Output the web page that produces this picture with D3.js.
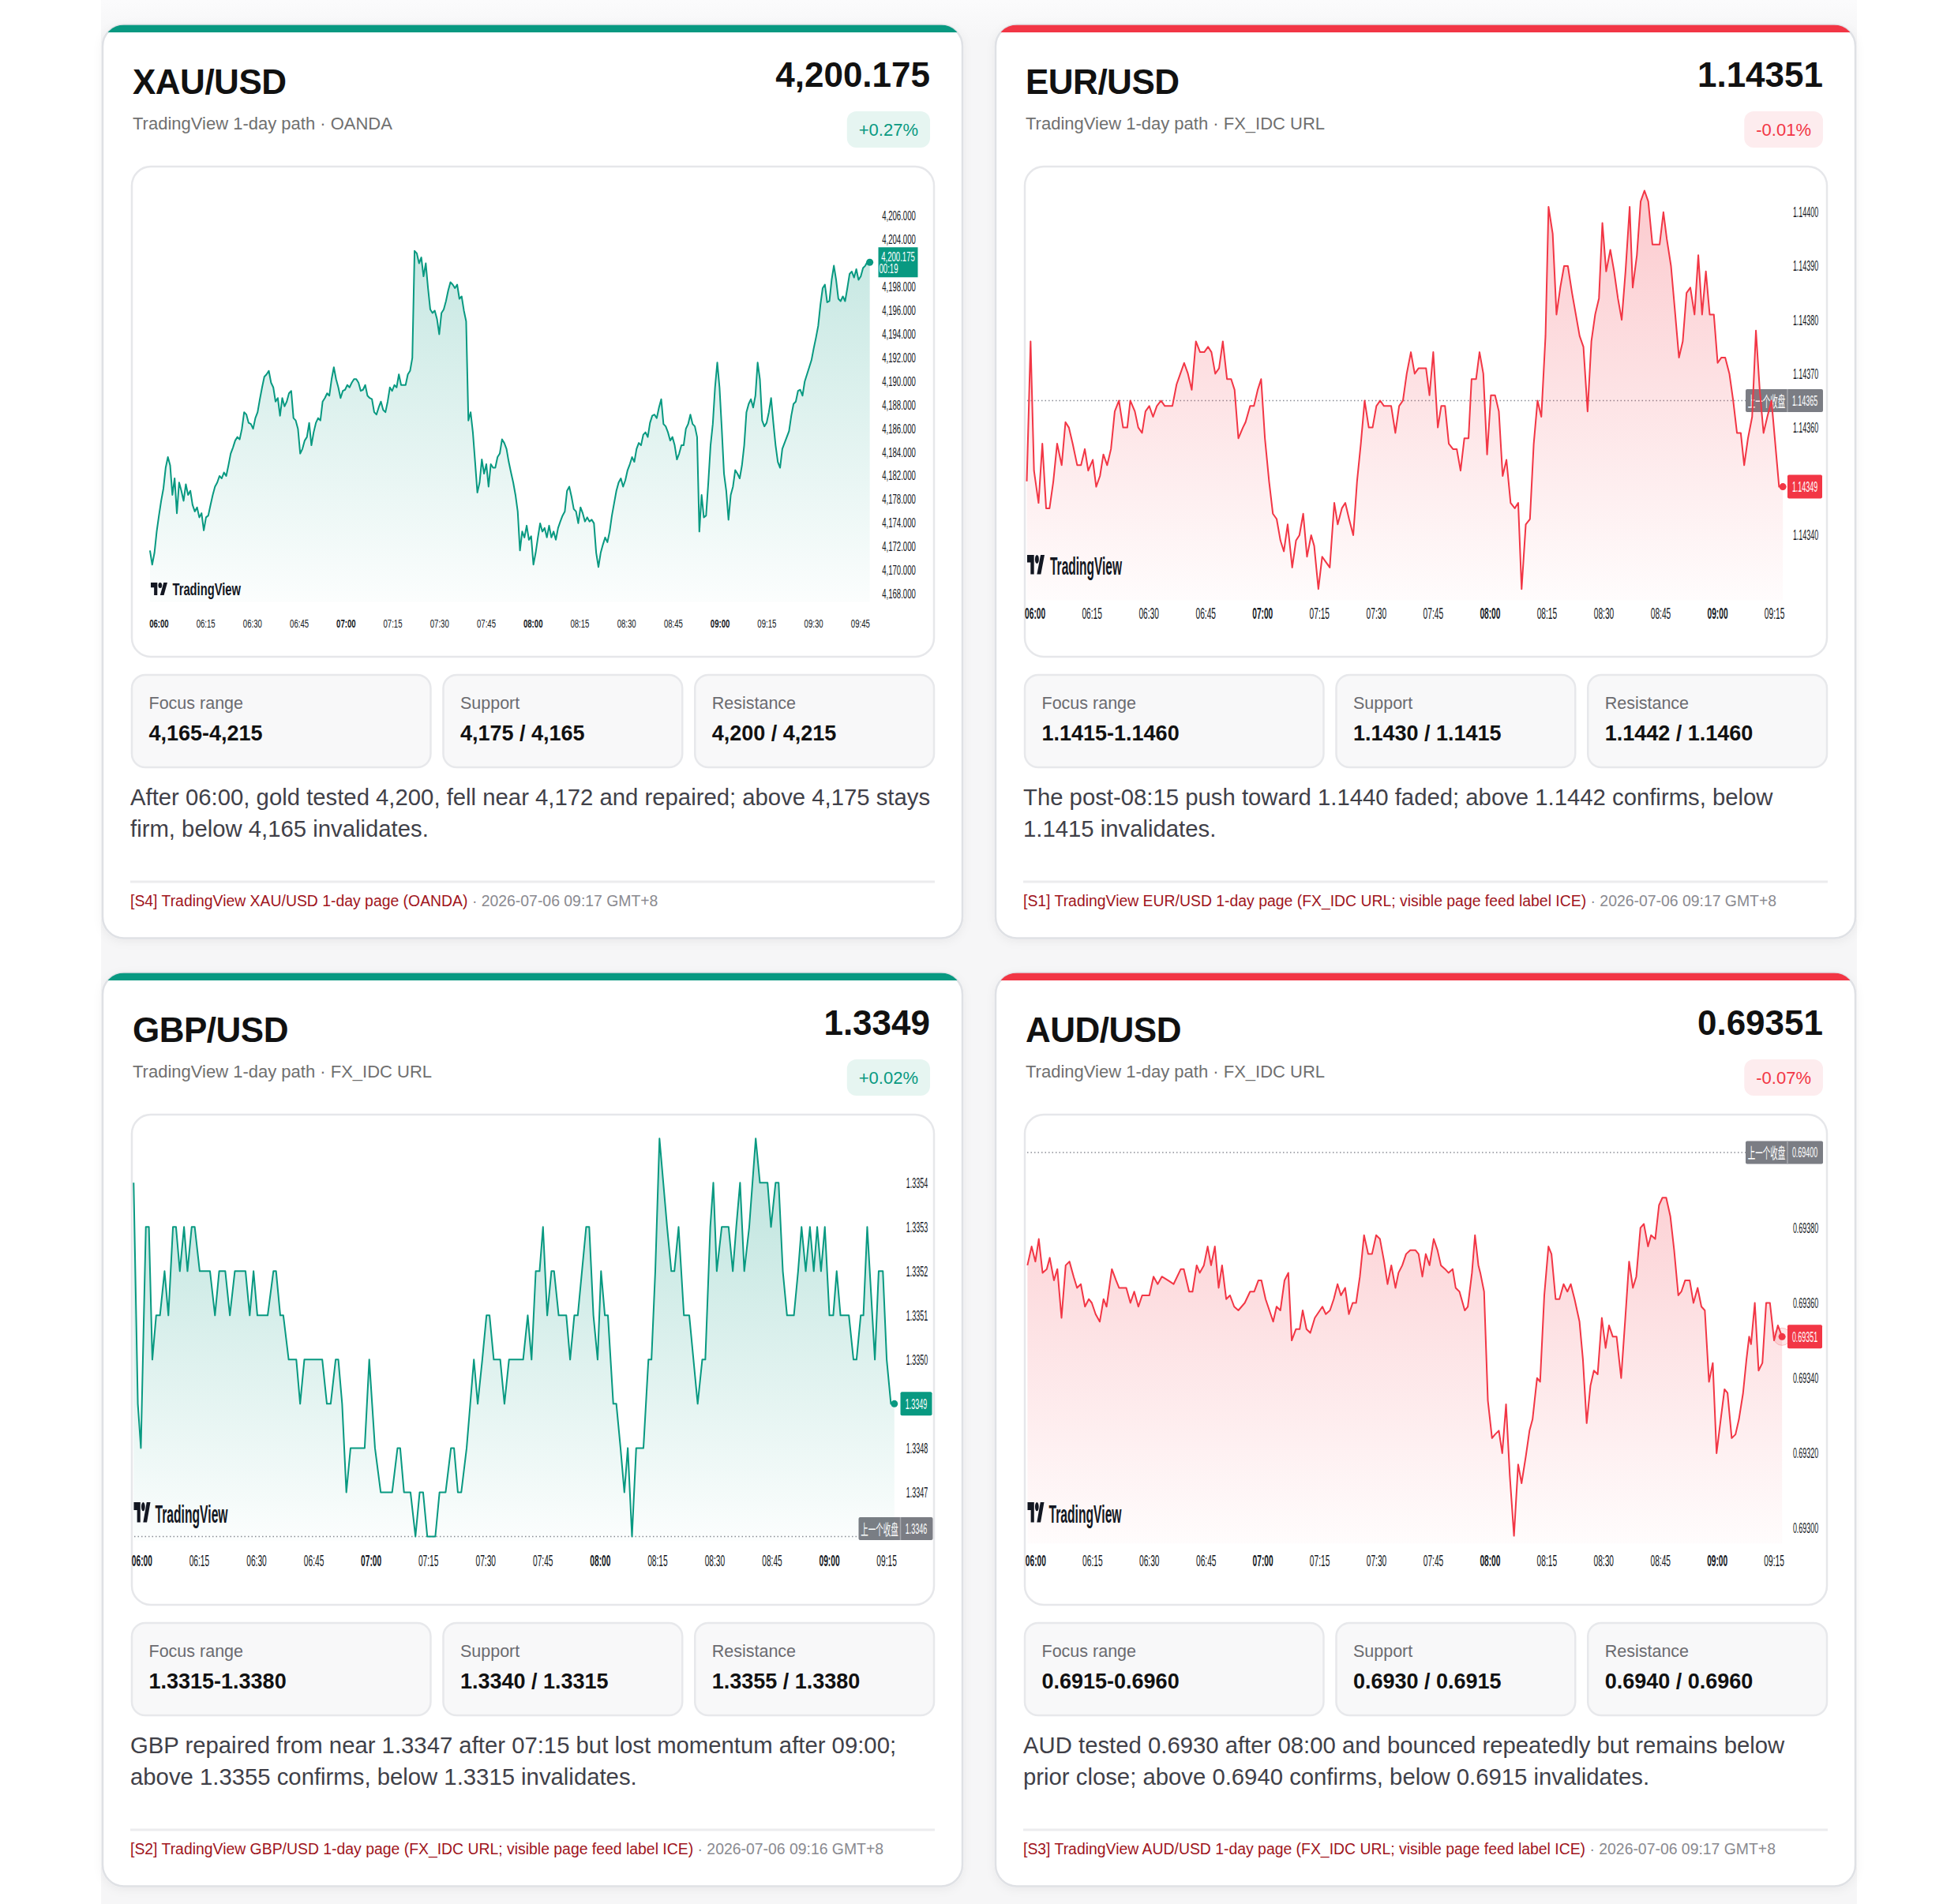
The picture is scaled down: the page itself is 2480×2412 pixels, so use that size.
<!DOCTYPE html>
<html lang="en">
<head>
<meta charset="utf-8">
<title>FX intraday cards</title>
<script src="https://d3js.org/d3.v7.min.js"></script>
<style>
  html, body { margin: 0; padding: 0; background: #ffffff; }
  svg { display: block; }
</style>
</head>
<body>
<script>

// ---------- data ----------
var symbols   = ["XAU/USD", "EUR/USD", "GBP/USD", "AUD/USD"];
var lastPrice = ["4,200.175", "1.14351", "1.3349", "0.69351"];
var changes   = ["+0.27%", "-0.01%", "+0.02%", "-0.07%"];
var feeds     = ["TradingView 1-day path \u00b7 OANDA", "TradingView 1-day path \u00b7 FX_IDC URL",
                 "TradingView 1-day path \u00b7 FX_IDC URL", "TradingView 1-day path \u00b7 FX_IDC URL"];
var statLabels = ["Focus range", "Support", "Resistance"];
var focusRange = ["4,165-4,215", "1.1415-1.1460", "1.3315-1.3380", "0.6915-0.6960"];
var supports   = ["4,175 / 4,165", "1.1430 / 1.1415", "1.3340 / 1.3315", "0.6930 / 0.6915"];
var resists    = ["4,200 / 4,215", "1.1442 / 1.1460", "1.3355 / 1.3380", "0.6940 / 0.6960"];
var notes = [
  ["After 06:00, gold tested 4,200, fell near 4,172 and repaired; above 4,175 stays", "firm, below 4,165 invalidates."],
  ["The post-08:15 push toward 1.1440 faded; above 1.1442 confirms, below", "1.1415 invalidates."],
  ["GBP repaired from near 1.3347 after 07:15 but lost momentum after 09:00;", "above 1.3355 confirms, below 1.3315 invalidates."],
  ["AUD tested 0.6930 after 08:00 and bounced repeatedly but remains below", "prior close; above 0.6940 confirms, below 0.6915 invalidates."]
];
var sources = [
  "[S4] TradingView XAU/USD 1-day page (OANDA)",
  "[S1] TradingView EUR/USD 1-day page (FX_IDC URL; visible page feed label ICE)",
  "[S2] TradingView GBP/USD 1-day page (FX_IDC URL; visible page feed label ICE)",
  "[S3] TradingView AUD/USD 1-day page (FX_IDC URL; visible page feed label ICE)"
];
var stamps = ["2026-07-06 09:17 GMT+8", "2026-07-06 09:17 GMT+8", "2026-07-06 09:16 GMT+8", "2026-07-06 09:17 GMT+8"];

// price-scale labels (XAU's scale is not evenly valued in the screenshot)
var xauTicks = [4206, 4204, 4200, 4198, 4196, 4194, 4192, 4190, 4188, 4186, 4184, 4182, 4178, 4174, 4172, 4170, 4168];
var eurTicks = [1.14400, 1.14390, 1.14380, 1.14370, 1.14360, 1.14350, 1.14340];
var gbpTicks = [1.3354, 1.3353, 1.3352, 1.3351, 1.3350, 1.3349, 1.3348, 1.3347, 1.3346];
var audTicks = [0.69400, 0.69380, 0.69360, 0.69340, 0.69320, 0.69300];
var prevClose = [null, 1.14365, 1.3346, 0.69400];
var lastTicks = [4200.175, 1.14349, 1.3349, 0.69351];
var xauCountdown = "00:19";

// XAU: evenly spaced samples, first and last at these minutes after 06:00
var xauFirstMin = -2.9, xauLastMin = 228.0;
var xauPrice = [4171.7,4170.5,4171.5,4173.3,4175.3,4177.8,4179.9,4182.7,4183.6,4182.9,4178.8,4181.6,4175.7,4180.9,4179.5,4177.8,4180.6,4178.8,4179.5,4177.1,4176.0,4176.7,4175.0,4175.7,4173.4,4175.0,4175.3,4177.1,4178.8,4180.2,4180.9,4182.0,4181.6,4182.3,4182.0,4182.9,4183.9,4184.4,4185.0,4185.3,4185.1,4186.0,4187.4,4187.2,4186.5,4186.4,4186.0,4186.9,4187.4,4188.5,4189.5,4190.4,4190.6,4190.9,4189.9,4189.5,4188.3,4188.6,4187.1,4188.6,4187.9,4188.3,4189.0,4189.2,4186.9,4186.7,4186.0,4183.9,4184.3,4185.0,4185.3,4186.5,4184.6,4185.7,4186.5,4186.9,4186.7,4188.3,4188.6,4189.0,4188.8,4190.2,4191.2,4190.2,4189.5,4188.6,4189.2,4189.3,4189.7,4189.5,4189.9,4190.2,4190.2,4189.9,4189.2,4189.3,4189.7,4188.8,4188.6,4188.5,4187.4,4187.2,4187.8,4188.3,4187.6,4187.4,4188.3,4189.5,4189.2,4189.7,4189.5,4190.6,4189.7,4189.7,4189.7,4190.6,4190.9,4192.0,4202.1,4201.7,4200.0,4201.0,4198.9,4200.0,4197.9,4196.1,4195.8,4196.0,4195.3,4194.0,4195.8,4196.1,4196.8,4197.7,4198.4,4198.2,4197.9,4198.2,4197.0,4197.2,4196.0,4195.1,4186.7,4187.4,4185.7,4183.2,4179.2,4180.9,4183.4,4182.2,4183.0,4180.2,4183.0,4182.7,4182.7,4183.6,4183.9,4185.1,4184.8,4184.3,4183.2,4182.3,4180.9,4178.8,4176.0,4171.7,4173.3,4172.8,4173.8,4172.6,4172.9,4170.5,4171.5,4172.8,4174.0,4173.3,4173.6,4172.8,4173.8,4172.8,4173.3,4172.6,4173.6,4174.3,4175.3,4176.0,4179.5,4180.2,4178.5,4176.4,4176.0,4174.0,4176.7,4175.7,4174.3,4175.0,4174.3,4174.6,4174.0,4171.5,4170.3,4171.5,4172.2,4172.8,4172.4,4173.3,4175.3,4177.4,4179.5,4180.9,4181.6,4180.2,4181.3,4182.5,4183.0,4183.6,4183.2,4184.3,4184.8,4184.6,4185.5,4185.7,4185.3,4186.5,4187.1,4187.2,4186.9,4187.8,4188.5,4186.4,4186.2,4185.7,4185.0,4185.3,4184.6,4183.4,4183.9,4184.6,4184.6,4186.0,4186.4,4187.2,4186.4,4186.2,4185.3,4173.3,4178.8,4175.0,4175.3,4180.9,4184.6,4186.4,4189.5,4191.6,4189.5,4186.0,4182.2,4179.5,4174.6,4178.8,4180.2,4182.5,4182.2,4181.6,4182.9,4184.6,4187.4,4188.1,4188.5,4187.8,4188.8,4191.6,4190.2,4186.7,4186.2,4186.5,4187.4,4188.6,4186.5,4184.6,4183.2,4182.7,4184.3,4184.8,4185.3,4185.8,4187.1,4188.1,4188.3,4189.2,4189.3,4188.8,4190.0,4190.6,4191.2,4191.8,4192.8,4193.7,4194.7,4196.5,4197.9,4198.2,4196.7,4196.8,4198.6,4199.8,4198.6,4197.0,4196.8,4197.2,4196.8,4197.9,4199.1,4199.3,4198.8,4199.5,4198.6,4198.9,4199.6,4199.8,4200.3,4200.175];

// [minutes after 06:00, price]
var eurPath = [[-2.2,1.14350],[-1.2,1.14376],[-0.3,1.14352],[0.9,1.14346],[1.9,1.14357],[2.9,1.14345],[3.8,1.14345],[4.8,1.14350],[5.8,1.14357],[7.0,1.14353],[8.0,1.14361],[8.9,1.14360],[9.9,1.14357],[11.1,1.14353],[12.1,1.14353],[13.1,1.14356],[14.0,1.14352],[15.2,1.14354],[16.1,1.14349],[17.1,1.14351],[18.0,1.14355],[19.0,1.14353],[20.0,1.14356],[21.0,1.14363],[22.1,1.14365],[23.2,1.14360],[24.3,1.14360],[25.1,1.14365],[26.3,1.14363],[27.2,1.14360],[28.2,1.14359],[29.1,1.14363],[30.1,1.14364],[31.1,1.14362],[32.1,1.14364],[33.2,1.14365],[34.2,1.14364],[36.2,1.14364],[37.3,1.14368],[38.3,1.14370],[39.3,1.14372],[40.3,1.14370],[41.3,1.14367],[42.4,1.14376],[43.5,1.14374],[44.6,1.14374],[45.6,1.14375],[46.5,1.14374],[47.5,1.14370],[48.5,1.14371],[49.5,1.14376],[50.6,1.14369],[51.7,1.14369],[52.6,1.14367],[53.6,1.14358],[54.8,1.14360],[55.5,1.14361],[56.7,1.14364],[57.7,1.14364],[58.7,1.14367],[59.6,1.14369],[60.6,1.14358],[61.7,1.14350],[62.7,1.14344],[63.7,1.14343],[64.7,1.14339],[65.6,1.14337],[66.6,1.14342],[67.8,1.14334],[68.8,1.14339],[69.7,1.14340],[70.7,1.14344],[71.7,1.14336],[72.8,1.14340],[73.6,1.14338],[74.7,1.14330],[75.7,1.14336],[76.7,1.14335],[77.7,1.14334],[78.9,1.14346],[79.8,1.14342],[80.9,1.14345],[81.8,1.14346],[82.8,1.14343],[83.9,1.14340],[84.9,1.14350],[85.9,1.14357],[86.9,1.14365],[88.0,1.14360],[89.0,1.14360],[90.0,1.14364],[91.0,1.14365],[92.0,1.14364],[93.9,1.14364],[95.0,1.14359],[96.0,1.14364],[97.0,1.14365],[98.0,1.14370],[99.1,1.14374],[100.1,1.14370],[101.1,1.14371],[103.1,1.14371],[104.0,1.14366],[105.0,1.14374],[106.2,1.14360],[107.1,1.14364],[108.1,1.14364],[109.1,1.14357],[110.2,1.14356],[111.2,1.14356],[112.2,1.14352],[113.2,1.14358],[114.3,1.14358],[115.1,1.14369],[116.3,1.14369],[117.2,1.14374],[118.2,1.14370],[119.2,1.14355],[120.2,1.14366],[121.3,1.14366],[122.3,1.14363],[123.3,1.14351],[124.3,1.14354],[125.4,1.14346],[126.5,1.14345],[127.4,1.14346],[128.3,1.14330],[129.4,1.14342],[130.5,1.14343],[131.5,1.14357],[132.5,1.14365],[133.5,1.14362],[134.6,1.14377],[135.4,1.14401],[136.5,1.14396],[137.5,1.14381],[138.5,1.14386],[139.5,1.14390],[140.5,1.14390],[141.6,1.14385],[142.6,1.14381],[143.6,1.14377],[144.6,1.14375],[145.7,1.14363],[146.7,1.14376],[147.7,1.14381],[148.7,1.14384],[149.6,1.14398],[150.6,1.14389],[151.7,1.14393],[152.7,1.14389],[153.7,1.14384],[154.7,1.14380],[155.7,1.14389],[156.8,1.14401],[157.6,1.14386],[158.7,1.14392],[159.7,1.14402],[160.7,1.14404],[161.7,1.14402],[162.8,1.14394],[164.7,1.14394],[165.7,1.14400],[166.6,1.14395],[167.7,1.14390],[168.7,1.14382],[169.8,1.14373],[170.8,1.14376],[171.8,1.14385],[172.8,1.14386],[173.9,1.14381],[174.9,1.14392],[175.9,1.14381],[176.9,1.14389],[177.9,1.14381],[179.0,1.14381],[180.0,1.14372],[181.0,1.14373],[182.0,1.14373],[183.1,1.14370],[184.1,1.14365],[185.1,1.14359],[186.1,1.14359],[187.0,1.14353],[188.0,1.14358],[189.1,1.14362],[190.1,1.14378],[191.1,1.14367],[192.1,1.14359],[193.1,1.14362],[194.2,1.14365],[195.2,1.14357],[196.2,1.14349],[197.2,1.14349]];

var gbpPath = [[-2.2,1.3354],[-1.1,1.3349],[-0.3,1.3348],[1.0,1.3353],[1.8,1.3353],[2.7,1.3350],[3.7,1.3351],[4.7,1.3351],[5.9,1.3352],[6.9,1.3351],[8.1,1.3353],[8.9,1.3353],[9.9,1.3352],[11.0,1.3353],[11.9,1.3352],[13.0,1.3353],[13.8,1.3353],[15.1,1.3352],[17.8,1.3352],[19.1,1.3351],[20.2,1.3352],[21.8,1.3352],[23.0,1.3351],[24.3,1.3352],[27.1,1.3352],[28.2,1.3351],[29.2,1.3352],[30.2,1.3351],[32.9,1.3351],[34.4,1.3352],[35.1,1.3352],[36.2,1.3351],[37.0,1.3351],[38.4,1.3350],[40.4,1.3350],[41.4,1.3349],[42.5,1.3350],[47.2,1.3350],[48.4,1.3349],[49.4,1.3349],[50.7,1.3350],[51.4,1.3350],[52.4,1.3349],[53.5,1.3347],[54.6,1.3348],[58.3,1.3348],[59.5,1.3350],[61.0,1.3348],[62.5,1.3347],[65.5,1.3347],[66.9,1.3348],[67.6,1.3348],[68.6,1.3347],[70.3,1.3347],[71.6,1.3346],[72.7,1.3347],[73.6,1.3347],[74.7,1.3346],[76.8,1.3346],[77.9,1.3347],[79.5,1.3347],[80.9,1.3348],[81.7,1.3348],[82.7,1.3347],[83.6,1.3347],[85.0,1.3348],[86.9,1.3350],[87.9,1.3349],[89.1,1.3350],[90.2,1.3351],[91.0,1.3351],[92.1,1.3350],[93.8,1.3350],[94.9,1.3349],[96.1,1.3350],[99.8,1.3350],[101.0,1.3351],[102.0,1.3350],[103.1,1.3352],[104.1,1.3352],[105.0,1.3353],[106.1,1.3351],[107.2,1.3352],[107.9,1.3352],[109.1,1.3351],[111.1,1.3351],[112.1,1.3350],[113.2,1.3351],[114.1,1.3351],[115.2,1.3352],[116.3,1.3353],[117.1,1.3353],[118.2,1.3351],[119.3,1.3350],[120.2,1.3352],[121.2,1.3351],[122.0,1.3351],[123.4,1.3349],[124.2,1.3349],[125.3,1.3348],[126.3,1.3347],[127.2,1.3348],[128.3,1.3346],[129.4,1.3348],[131.3,1.3348],[132.6,1.3350],[133.4,1.3350],[134.4,1.3352],[135.5,1.3355],[137.5,1.3353],[138.6,1.3352],[139.4,1.3352],[140.5,1.3353],[141.9,1.3351],[143.3,1.3351],[144.4,1.3350],[145.5,1.3349],[146.7,1.3350],[147.5,1.3350],[148.8,1.3353],[149.6,1.3354],[150.5,1.3352],[151.8,1.3353],[153.6,1.3353],[154.7,1.3352],[155.6,1.3353],[156.6,1.3354],[157.7,1.3352],[159.0,1.3353],[160.7,1.3355],[161.8,1.3354],[163.8,1.3354],[164.7,1.3353],[165.9,1.3354],[166.7,1.3354],[167.8,1.3352],[168.9,1.3351],[170.7,1.3351],[171.8,1.3352],[172.7,1.3353],[173.8,1.3352],[174.9,1.3353],[175.9,1.3352],[176.8,1.3353],[177.8,1.3352],[178.8,1.3353],[180.0,1.3351],[181.0,1.3351],[181.9,1.3352],[182.9,1.3351],[185.1,1.3351],[186.3,1.3350],[187.1,1.3350],[188.2,1.3351],[188.9,1.3351],[189.9,1.3353],[191.9,1.3350],[192.9,1.3352],[194.0,1.3352],[195.0,1.3350],[196.1,1.3349],[197.0,1.3349]];

var audPath = [[-2.2,0.69370],[-1.1,0.69375],[-0.1,0.69371],[0.8,0.69377],[1.8,0.69368],[2.9,0.69369],[3.7,0.69372],[4.8,0.69366],[5.7,0.69369],[6.8,0.69356],[7.9,0.69370],[8.9,0.69371],[10.0,0.69367],[10.9,0.69364],[11.9,0.69365],[13.0,0.69359],[14.0,0.69361],[14.8,0.69360],[15.8,0.69357],[16.9,0.69355],[17.9,0.69361],[18.7,0.69359],[20.1,0.69369],[21.2,0.69366],[22.0,0.69364],[23.9,0.69364],[25.0,0.69360],[26.0,0.69363],[27.1,0.69359],[28.1,0.69362],[30.0,0.69362],[31.1,0.69367],[32.2,0.69365],[33.3,0.69367],[34.9,0.69366],[36.4,0.69365],[38.3,0.69369],[39.1,0.69369],[40.5,0.69363],[41.4,0.69363],[42.5,0.69370],[43.3,0.69368],[44.4,0.69370],[45.4,0.69375],[46.3,0.69370],[47.3,0.69375],[48.3,0.69364],[49.2,0.69370],[50.3,0.69361],[51.3,0.69362],[52.4,0.69359],[53.5,0.69358],[55.2,0.69360],[56.6,0.69363],[57.7,0.69363],[58.8,0.69366],[59.6,0.69366],[60.7,0.69361],[62.7,0.69355],[63.6,0.69359],[64.6,0.69358],[65.7,0.69366],[66.7,0.69368],[67.6,0.69350],[68.7,0.69353],[69.7,0.69353],[70.5,0.69358],[71.5,0.69353],[72.5,0.69352],[73.7,0.69356],[75.7,0.69359],[76.6,0.69357],[77.7,0.69358],[78.7,0.69361],[79.7,0.69365],[80.6,0.69362],[81.7,0.69364],[82.7,0.69357],[83.7,0.69360],[84.6,0.69360],[85.6,0.69367],[86.7,0.69378],[87.8,0.69373],[88.8,0.69373],[89.9,0.69378],[90.9,0.69377],[92.0,0.69371],[92.9,0.69365],[93.9,0.69370],[95.0,0.69364],[95.8,0.69368],[96.8,0.69370],[97.8,0.69373],[98.9,0.69374],[100.3,0.69374],[101.1,0.69373],[102.1,0.69367],[103.0,0.69373],[104.0,0.69370],[105.1,0.69377],[106.1,0.69374],[107.0,0.69370],[108.1,0.69369],[109.0,0.69368],[110.1,0.69369],[110.9,0.69364],[111.9,0.69363],[113.3,0.69358],[114.1,0.69359],[115.2,0.69368],[116.0,0.69378],[116.9,0.69370],[117.4,0.69368],[118.4,0.69363],[119.4,0.69334],[120.5,0.69324],[121.3,0.69325],[122.3,0.69326],[123.2,0.69320],[124.2,0.69333],[125.2,0.69314],[126.3,0.69298],[127.4,0.69317],[128.3,0.69312],[129.4,0.69319],[130.4,0.69326],[131.2,0.69329],[132.4,0.69340],[133.2,0.69339],[134.3,0.69362],[135.4,0.69375],[136.2,0.69373],[137.3,0.69361],[138.3,0.69361],[139.4,0.69365],[140.4,0.69363],[141.3,0.69365],[142.3,0.69361],[143.6,0.69355],[144.5,0.69345],[145.5,0.69328],[146.5,0.69338],[147.4,0.69342],[148.4,0.69341],[149.5,0.69356],[150.5,0.69348],[151.4,0.69354],[152.4,0.69351],[153.4,0.69351],[154.6,0.69340],[155.7,0.69356],[156.7,0.69371],[157.7,0.69364],[158.6,0.69367],[159.7,0.69380],[160.6,0.69381],[161.7,0.69375],[162.5,0.69378],[163.6,0.69377],[164.6,0.69386],[165.5,0.69388],[166.5,0.69388],[167.6,0.69383],[168.6,0.69374],[169.7,0.69362],[170.5,0.69363],[171.5,0.69366],[172.7,0.69366],[173.7,0.69360],[174.8,0.69364],[175.8,0.69359],[176.7,0.69358],[177.8,0.69339],[178.8,0.69344],[179.8,0.69320],[180.9,0.69329],[181.9,0.69337],[182.7,0.69336],[183.8,0.69324],[184.8,0.69325],[185.7,0.69329],[186.8,0.69336],[187.7,0.69345],[188.4,0.69351],[188.9,0.69349],[189.9,0.69360],[190.9,0.69342],[191.9,0.69344],[192.9,0.69360],[193.9,0.69360],[195.0,0.69350],[196.0,0.69354],[197.1,0.69351]];

// ---------- build the per-card tables ----------
var GREEN = "#089981", RED = "#f23645";
var day0 = new Date(2026, 6, 6, 6, 0);
function atMin(m) { return new Date(day0.getTime() + m * 60000); }

var xauSeries = xauPrice.map(function(v, i) {
  return { t: atMin(xauFirstMin + i * (xauLastMin - xauFirstMin) / (xauPrice.length - 1)), v: v };
});
function pairs(p) { return p.map(function(d) { return { t: atMin(d[0]), v: d[1] }; }); }

var charts = [
  { series: xauSeries, ticks: xauTicks, fmt: d3.format(",.3f"), knots: true, endMin: 225,
    L: { x0: 71.4, x1: 959.8, yTop: 242.2, yBot: 721.2, tickX: 1008.5, timeY: 758.5, fillBot: 731,
         tickSize: 16, timeSize: 15, sx: 0.6, badgeW: 50,
         logoX: 61, logoY: 706.5, logoH: 16, logoW: 21, logoTextX: 88.5, logoSize: 22, logoSx: 0.67 } },
  { series: pairs(eurPath), ticks: eurTicks, fmt: d3.format(".5f"), knots: false, endMin: 195,
    L: { x0: 50.1, x1: 986.6, yTop: 237.3, yBot: 646.5, tickX: 1026, timeY: 745.5, fillBot: 729,
         tickSize: 19, timeSize: 20, sx: 0.47, badgeW: 44,
         logoX: 40, logoY: 671.5, logoH: 24.5, logoW: 22, logoTextX: 69, logoSize: 31, logoSx: 0.5 } },
  { series: pairs(gbpPath), ticks: gbpTicks, fmt: d3.format(".4f"), knots: false, endMin: 195,
    L: { x0: 49.9, x1: 993.1, yTop: 265.8, yBot: 713.9, tickX: 1031.5, timeY: 744.5, fillBot: 719,
         tickSize: 19, timeSize: 20, sx: 0.47, badgeW: 40,
         logoX: 39.5, logoY: 670.5, logoH: 25.5, logoW: 21, logoTextX: 66.5, logoSize: 32, logoSx: 0.49 } },
  { series: pairs(audPath), ticks: audTicks, fmt: d3.format(".5f"), knots: false, endMin: 195,
    L: { x0: 50.9, x1: 986.1, yTop: 227.6, yBot: 703.6, tickX: 1026, timeY: 744.5, fillBot: 723,
         tickSize: 19, timeSize: 20, sx: 0.47, badgeW: 44,
         logoX: 40.5, logoY: 670.5, logoH: 25.5, logoW: 21, logoTextX: 67.5, logoSize: 32, logoSx: 0.49 } }
];

// card geometry
var W = 2480, H = 2412;
var cardW = 1089, cardH = 1157;
var cardX = [130, 1261, 130, 1261];
var cardY = [31.5, 31.5, 1232.5, 1232.5];
var FONT = "'Liberation Sans', Arial, Helvetica, sans-serif";

var svg = d3.select("body").append("svg")
  .attr("width", W).attr("height", H)
  .attr("font-family", FONT);

var defs = svg.append("defs");
var shadow = defs.append("filter").attr("id", "shadow").attr("x", "-5%").attr("y", "-5%").attr("width", "110%").attr("height", "110%");
shadow.append("feDropShadow").attr("dx", 0).attr("dy", 3).attr("stdDeviation", 6).attr("flood-color", "#000").attr("flood-opacity", 0.05);

var bg = defs.append("linearGradient").attr("id", "pagebg").attr("x1", 0).attr("x2", 0).attr("y1", 0).attr("y2", 1);
bg.append("stop").attr("offset", 0).attr("stop-color", "#fbfbfc");
bg.append("stop").attr("offset", 0.02).attr("stop-color", "#f6f6f7");
bg.append("stop").attr("offset", 1).attr("stop-color", "#f6f6f7");

svg.append("rect").attr("width", W).attr("height", H).attr("fill", "#fff");
svg.append("rect").attr("x", 128).attr("width", 2224).attr("height", H).attr("fill", "url(#pagebg)");

// condensed text (the chart screenshots are squeezed sideways)
function ctext(g, x, y, str, size, sx) {
  return g.append("text")
    .attr("transform", "translate(" + x + "," + y + ") scale(" + sx + ",1)")
    .attr("font-size", size)
    .attr("dominant-baseline", "central")
    .text(str);
}

symbols.forEach(function(sym, i) {
  var up = changes[i].charAt(0) === "+";
  var col = up ? GREEN : RED;
  var g = svg.append("g").attr("transform", "translate(" + cardX[i] + "," + cardY[i] + ")");

  // card + coloured top strip
  var clipId = "card-clip-" + i;
  defs.append("clipPath").attr("id", clipId)
    .append("rect").attr("width", cardW).attr("height", cardH).attr("rx", 27);
  g.append("rect").attr("width", cardW).attr("height", cardH).attr("rx", 27)
    .attr("fill", "#fff").attr("stroke", "#dfe1e5").attr("stroke-width", 2.5)
    .attr("filter", "url(#shadow)");
  g.append("rect").attr("clip-path", "url(#" + clipId + ")")
    .attr("width", cardW).attr("height", 9.5).attr("fill", col);

  // header
  g.append("text").attr("x", 38).attr("y", 87.5).attr("font-size", 44).attr("font-weight", "bold")
    .attr("fill", "#111").attr("letter-spacing", -0.5).text(sym);
  g.append("text").attr("x", cardW - 41).attr("y", 78.5).attr("font-size", 44).attr("font-weight", "bold")
    .attr("fill", "#111").attr("text-anchor", "end").text(lastPrice[i]);
  g.append("text").attr("x", 38).attr("y", 132.5).attr("font-size", 22).attr("fill", "#707070").text(feeds[i]);

  var badge = g.append("g");
  var chg = badge.append("text").attr("y", 140).attr("font-size", 22).attr("fill", col)
    .attr("text-anchor", "middle").text(changes[i]);
  var bw = chg.node().getComputedTextLength() + 30;
  badge.insert("rect", "text")
    .attr("x", cardW - 41 - bw).attr("y", 109.5).attr("width", bw).attr("height", 46).attr("rx", 12)
    .attr("fill", up ? "#e6f5f1" : "#fdecee");
  chg.attr("x", cardW - 41 - bw / 2);

  // chart panel
  var cg = g.append("g");
  cg.append("rect").attr("x", 37).attr("y", 179.5).attr("width", 1016).attr("height", 621).attr("rx", 24)
    .attr("fill", "#fff").attr("stroke", "#e6e7ea").attr("stroke-width", 2.5);
  drawChart(cg, charts[i], col, i);

  // stat boxes: 1.25fr 1fr 1fr
  var values = [focusRange[i], supports[i], resists[i]];
  var fr = (1016 - 32) / 3.25;
  var widths = [fr * 1.25, fr, fr];
  var bx = 37;
  statLabels.forEach(function(lab, k) {
    g.append("rect").attr("x", bx).attr("y", 823.5).attr("width", widths[k]).attr("height", 117).attr("rx", 17)
      .attr("fill", "#f8f8f9").attr("stroke", "#e7e8eb").attr("stroke-width", 2.5);
    g.append("text").attr("x", bx + 21.5).attr("y", 866.5).attr("font-size", 21.5).attr("fill", "#6b6b70").text(lab);
    g.append("text").attr("x", bx + 21.5).attr("y", 906.5).attr("font-size", 27).attr("font-weight", "bold")
      .attr("fill", "#111").text(values[k]);
    bx += widths[k] + 16;
  });

  // note
  notes[i].forEach(function(line, k) {
    g.append("text").attr("x", 35).attr("y", 988.5 + k * 40).attr("font-size", 29.3).attr("fill", "#404048").text(line);
  });

  g.append("line").attr("x1", 35).attr("x2", 1054).attr("y1", 1085.5).attr("y2", 1085.5)
    .attr("stroke", "#ececee").attr("stroke-width", 3);

  var foot = g.append("text").attr("x", 35).attr("y", 1116.5).attr("font-size", 19.4);
  foot.append("tspan").attr("fill", "#a0141c").text(sources[i]);
  foot.append("tspan").attr("fill", "#8a8a90").text(" \u00b7 " + stamps[i]);
});

function drawChart(g, c, col, i) {
  var L = c.L;
  var x = d3.scaleTime().domain([atMin(0), atMin(c.endMin)]).range([L.x0, L.x1]);
  var y;
  if (c.knots) {
    var slot = d3.scalePoint().domain(c.ticks).range([L.yTop, L.yBot]);
    y = d3.scaleLinear().domain(c.ticks).range(c.ticks.map(function(t) { return slot(t); }));
  } else {
    y = d3.scaleLinear().domain([c.ticks[0], c.ticks[c.ticks.length - 1]]).range([L.yTop, L.yBot]);
  }

  var gid = "fill-" + i;
  var grad = defs.append("linearGradient").attr("id", gid).attr("gradientUnits", "userSpaceOnUse")
    .attr("x1", 0).attr("x2", 0).attr("y1", L.yTop - 40).attr("y2", L.fillBot);
  grad.append("stop").attr("offset", 0).attr("stop-color", col).attr("stop-opacity", 0.27);
  grad.append("stop").attr("offset", 1).attr("stop-color", col).attr("stop-opacity", 0.015);

  var data = c.series;
  var area = d3.area().x(function(d) { return x(d.t); }).y0(L.fillBot).y1(function(d) { return y(d.v); });
  var line = d3.line().x(function(d) { return x(d.t); }).y(function(d) { return y(d.v); });

  // badges on the price scale hide the labels beneath them
  var lastY = y(lastTicks[i]);
  var lastHalf = c.knots ? 19 : 15;
  var prevY = prevClose[i] !== null ? Math.min(y(prevClose[i]), L.fillBot - 15) : null;
  function hidden(ty) {
    if (Math.abs(ty - lastY) < lastHalf + 3) return true;
    if (prevY !== null && Math.abs(ty - prevY) < 17) return true;
    return false;
  }

  // price scale labels
  var tg = g.append("g").attr("fill", "#131722");
  c.ticks.forEach(function(t) {
    if (hidden(y(t))) return;
    ctext(tg, L.tickX, y(t), c.fmt(t), L.tickSize, L.sx).attr("text-anchor", "middle");
  });

  // time labels
  var times = x.ticks(d3.timeMinute.every(15));
  var tf = d3.timeFormat("%H:%M");
  times.forEach(function(t) {
    ctext(tg, x(t), L.timeY, tf(t), L.timeSize, L.sx + 0.04)
      .attr("text-anchor", "middle")
      .attr("font-weight", t.getMinutes() === 0 ? "bold" : "normal");
  });

  // previous close
  if (prevY !== null) {
    var py = y(prevClose[i]);
    var bx1 = L.tickX - L.badgeW / 2 - 1, bx0 = bx1 - 53;
    g.append("line").attr("x1", 40).attr("x2", bx0).attr("y1", py).attr("y2", py)
      .attr("stroke", "#8a8d96").attr("stroke-width", 1.5).attr("stroke-dasharray", "1.5 3");
    g.append("rect").attr("x", bx0).attr("y", prevY - 14.5).attr("width", bx1 + L.badgeW - bx0 + 1).attr("height", 29)
      .attr("rx", 2).attr("fill", "#7b7d84");
    g.append("line").attr("x1", bx1).attr("x2", bx1).attr("y1", prevY - 14.5).attr("y2", prevY + 14.5)
      .attr("stroke", "#a5a7ad").attr("stroke-width", 1.5);
    var pg = g.append("g").attr("fill", "#fff");
    ctext(pg, (bx0 + bx1) / 2, prevY, "\u4e0a\u4e00\u4e2a\u6536\u76d8", 19, 0.5)
      .attr("text-anchor", "middle").attr("font-family", "'Noto Sans CJK SC', sans-serif");
    ctext(pg, L.tickX - 1, prevY, c.fmt(prevClose[i]), L.tickSize, L.sx).attr("text-anchor", "middle");
  }

  g.append("path").datum(data).attr("d", area).attr("fill", "url(#" + gid + ")");
  g.append("path").datum(data).attr("d", line).attr("fill", "none")
    .attr("stroke", col).attr("stroke-width", 2).attr("stroke-linejoin", "round");

  var last = data[data.length - 1];
  if (i === 3) {
    g.append("circle").attr("cx", x(last.t)).attr("cy", y(last.v)).attr("r", 11)
      .attr("fill", col).attr("fill-opacity", 0.12).attr("stroke", col).attr("stroke-opacity", 0.25);
  }
  g.append("circle").attr("cx", x(last.t)).attr("cy", y(last.v)).attr("r", 4.5).attr("fill", col);

  // last price badge
  var lb = g.append("g");
  if (c.knots) {
    lb.append("rect").attr("x", L.tickX - L.badgeW / 2 - 1).attr("y", lastY - 19).attr("width", L.badgeW).attr("height", 38)
      .attr("fill", col);
    ctext(lb, L.tickX - 1, lastY - 7, c.fmt(lastTicks[i]), L.tickSize, L.sx).attr("text-anchor", "middle").attr("fill", "#fff");
    ctext(lb, L.tickX - 13, lastY + 8, xauCountdown, L.tickSize, L.sx).attr("text-anchor", "middle").attr("fill", "#fff");
  } else {
    lb.append("rect").attr("x", L.tickX - L.badgeW / 2 - 1).attr("y", lastY - 15).attr("width", L.badgeW).attr("height", 30)
      .attr("rx", 2).attr("fill", col);
    ctext(lb, L.tickX - 1, lastY, c.fmt(lastTicks[i]), L.tickSize, L.sx).attr("text-anchor", "middle").attr("fill", "#fff");
  }

  // TradingView mark (icon drawn in a 35.5 x 18 box, baseline at its bottom)
  var logo = g.append("g")
    .attr("transform", "translate(" + L.logoX + "," + (L.logoY - 4 * L.logoH / 18) + ") scale(" + (L.logoW / 35.5) + "," + (L.logoH / 18) + ")")
    .attr("fill", "#131722");
  logo.append("path").attr("d", "M14 22H7V11H0V4h14v18zM28 22h-8l7.5-18h8L28 22z");
  logo.append("circle").attr("cx", 20).attr("cy", 8).attr("r", 4);
  g.append("text")
    .attr("transform", "translate(" + L.logoTextX + "," + (L.logoY + L.logoH) + ") scale(" + L.logoSx + ",1)")
    .attr("font-size", L.logoSize).attr("font-weight", "bold").attr("fill", "#131722")
    .text("TradingView");
}
</script>
</body>
</html>
